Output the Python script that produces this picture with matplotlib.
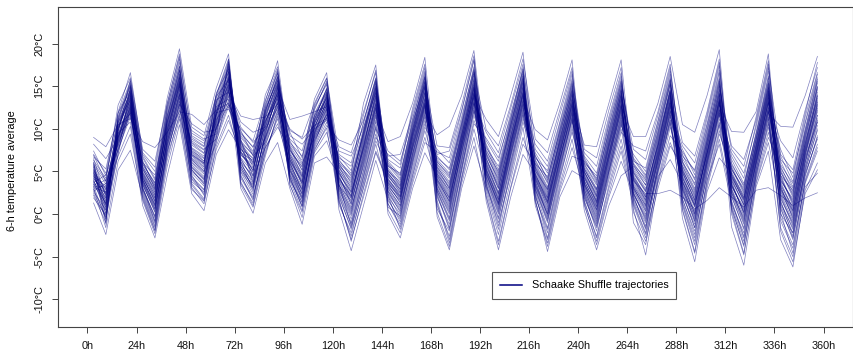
import matplotlib
matplotlib.use("Agg")
import matplotlib.pyplot as plt
import numpy as np

# Lead times (h) – centres of the 6-h windows
hours = [3 + 6 * k for k in range(60)]

# Ensemble values (degC) at each lead time, members 1-30
ensemble_a = [
    [9.0, 8.2, 4.5, 3.1, 5.8, 2.2, 6.3, 4.0, 3.6, 5.1, 7.0, 2.9, 4.8, 1.3, 5.5, 3.9, 6.7, 4.2, 3.3, 5.0, 2.6, 6.0, 4.6, 3.0, 5.3, 7.4, 3.8, 4.4, 1.9, 5.7],
    [7.9, 6.5, 1.8, 2.6, 3.5, -1.0, 4.2, 0.1, 0.8, 2.9, 4.8, -0.3, 3.0, -2.4, 1.4, 1.2, 5.3, 2.3, -0.6, 0.4, 0.5, 3.9, 1.0, -1.6, 2.2, 4.5, 1.6, 3.3, -0.1, 2.4],
    [10.5, 9.0, 8.6, 10.2, 7.5, 9.4, 11.3, 8.0, 9.8, 6.8, 12.0, 8.9, 10.7, 5.2, 9.1, 10.0, 11.8, 8.3, 7.2, 9.6, 10.4, 12.8, 8.8, 6.2, 9.3, 11.0, 9.9, 8.5, 7.8, 10.9],
    [11.2, 12.4, 13.8, 14.6, 12.0, 13.1, 15.2, 12.8, 14.0, 10.3, 16.6, 13.5, 14.4, 7.5, 12.6, 13.9, 15.6, 11.6, 12.2, 14.8, 13.3, 16.0, 12.9, 9.4, 13.6, 15.0, 14.2, 11.9, 12.5, 14.1],
    [8.5, 6.0, 3.4, 5.2, 2.4, 4.6, 6.6, 3.0, 5.5, 1.0, 7.2, 4.0, 3.8, 2.0, 4.9, 5.8, 4.3, 3.6, 2.8, 5.0, 4.4, 7.6, 3.2, 1.6, 4.7, 6.3, 5.3, 3.9, 2.6, 4.1],
    [7.8, 4.6, 0.5, 2.8, -1.4, 1.9, 4.0, -0.2, 3.3, -2.8, 5.5, 1.2, 0.9, -1.9, 2.2, 3.6, 1.6, 0.2, -0.8, 2.5, 1.4, 6.2, -0.5, -2.3, 2.0, 3.0, 2.9, 0.7, -1.1, 1.0],
    [9.6, 10.8, 8.4, 11.5, 7.0, 9.2, 12.4, 8.0, 10.3, 4.5, 13.6, 9.9, 8.8, 6.3, 10.6, 11.9, 9.4, 8.6, 7.6, 10.1, 11.2, 12.9, 9.0, 5.6, 10.9, 11.6, 10.4, 8.2, 7.3, 9.7],
    [12.0, 15.6, 14.2, 16.8, 13.0, 14.9, 18.2, 13.6, 15.9, 10.5, 19.4, 15.1, 14.0, 11.8, 16.2, 17.3, 14.6, 13.3, 12.8, 15.4, 16.5, 18.8, 14.4, 11.2, 16.0, 17.0, 15.7, 13.9, 12.5, 15.2],
    [11.7, 7.6, 5.2, 8.4, 3.6, 6.3, 9.5, 4.4, 7.0, 2.4, 10.2, 6.8, 5.6, 3.1, 7.4, 8.8, 6.0, 4.8, 4.1, 7.2, 6.5, 9.0, 5.4, 2.9, 7.8, 8.1, 6.6, 5.0, 3.8, 6.1],
    [10.5, 6.2, 3.6, 7.5, 1.8, 5.1, 8.6, 2.9, 5.9, 0.4, 9.2, 5.6, 4.2, 1.2, 6.5, 7.9, 4.7, 3.3, 2.4, 6.0, 5.3, 8.0, 4.0, 1.5, 6.8, 7.1, 5.5, 3.8, 2.6, 4.9],
    [12.2, 11.4, 10.3, 13.2, 8.6, 11.0, 14.0, 9.6, 12.0, 7.0, 14.8, 11.8, 10.6, 8.0, 12.5, 13.6, 10.8, 10.0, 9.2, 12.3, 11.6, 13.9, 10.4, 7.6, 12.8, 13.0, 11.9, 10.1, 9.0, 11.2],
    [13.0, 16.0, 14.6, 17.4, 12.6, 15.2, 18.2, 14.0, 16.4, 9.9, 18.8, 15.8, 14.8, 11.6, 16.8, 17.6, 15.0, 14.2, 13.4, 16.2, 15.5, 17.9, 14.4, 11.0, 16.6, 17.1, 15.9, 13.8, 12.9, 15.3],
    [9.4, 6.0, 8.2, 3.8, 7.0, 10.2, 5.4, 6.6, 4.4, 7.6, 5.0, 8.6, 3.0, 6.4, 4.6, 7.4, 9.0, 11.5, 5.8, 6.9, 8.0, 5.6, 10.8, 7.2, 6.2, 3.4, 8.4, 7.8, 9.8, 8.8],
    [7.9, 3.5, 6.0, 1.0, 5.2, 8.4, 2.6, 4.9, 2.0, 6.6, 3.0, 5.5, 0.1, 4.2, 1.6, 4.6, 7.2, 11.1, 3.8, 5.8, 4.4, 3.2, 9.6, 6.3, 2.8, 0.8, 7.0, 5.0, 6.8, 3.6],
    [11.0, 9.2, 12.2, 7.4, 10.4, 10.0, 8.6, 12.7, 8.0, 11.6, 9.6, 10.8, 6.0, 12.0, 8.8, 9.9, 13.2, 11.4, 9.0, 10.6, 7.8, 11.9, 10.2, 14.0, 9.4, 6.8, 10.9, 12.4, 8.4, 11.2],
    [13.6, 14.4, 15.8, 11.2, 14.8, 12.4, 13.0, 16.8, 12.2, 15.4, 14.0, 14.2, 8.4, 16.2, 13.4, 13.8, 18.0, 12.9, 13.2, 15.0, 10.6, 16.0, 13.5, 17.3, 14.6, 11.8, 14.1, 15.6, 12.6, 15.2],
    [6.4, 8.6, 7.0, 4.8, 11.1, 5.6, 3.9, 7.6, 6.0, 9.2, 5.0, 4.4, 3.0, 8.0, 6.6, 5.2, 7.2, 10.0, 4.2, 6.8, 5.8, 7.4, 9.6, 6.2, 3.5, 5.4, 8.2, 4.6, 7.8, 6.1],
    [3.8, 6.0, 4.6, 2.0, 11.5, 3.0, 0.4, 5.2, 2.8, 8.2, 2.4, 1.0, -1.2, 5.8, 4.0, 1.6, 4.8, 8.8, 0.9, 3.4, 2.2, 5.5, 6.6, 3.6, -0.4, 1.9, 6.3, 1.3, 4.4, 2.6],
    [10.2, 9.0, 11.4, 8.2, 12.0, 9.6, 7.4, 11.0, 10.6, 10.0, 8.8, 9.4, 6.0, 12.4, 10.8, 8.4, 11.8, 10.4, 7.8, 9.8, 9.2, 11.6, 13.5, 10.1, 6.8, 8.6, 12.8, 9.3, 11.2, 10.5],
    [13.0, 11.6, 14.2, 12.0, 12.6, 12.8, 10.4, 14.8, 13.6, 11.0, 12.2, 13.4, 6.7, 15.4, 14.0, 11.8, 14.6, 11.2, 10.8, 13.2, 12.4, 14.4, 16.6, 13.8, 8.6, 11.4, 15.9, 12.9, 13.5, 14.1],
    [5.0, 7.4, 3.2, 6.0, 2.6, 4.4, 8.7, 3.8, 5.6, 6.8, 1.4, 4.0, 4.8, 3.0, 5.2, 7.9, 2.2, 6.4, 3.5, 0.5, 4.6, 5.8, 2.8, 6.2, 4.2, 3.6, 5.4, 1.8, 4.9, 3.3],
    [2.0, 6.8, 0.2, 3.6, -1.0, 1.4, 8.1, 0.8, 3.0, 5.1, -2.6, 1.8, 2.4, -0.6, 2.8, 7.2, -1.8, 4.4, 0.4, -4.3, 1.1, 4.0, -0.2, 4.8, 2.2, -1.4, 3.4, -3.2, 2.6, 1.6],
    [8.4, 10.2, 6.0, 9.6, 4.6, 7.2, 11.0, 5.6, 9.0, 10.8, 3.2, 7.8, 8.0, 5.0, 8.6, 12.0, 3.8, 9.4, 6.6, 1.0, 7.0, 9.2, 5.2, 13.0, 8.2, 4.2, 9.8, 2.4, 7.6, 6.4],
    [13.4, 14.2, 11.6, 15.0, 10.4, 12.8, 15.6, 11.0, 14.6, 15.9, 8.6, 13.0, 13.8, 10.8, 14.0, 16.6, 9.4, 14.8, 12.2, 6.3, 12.6, 14.4, 11.4, 17.5, 13.6, 10.0, 15.3, 7.4, 12.4, 12.0],
    [4.6, 2.4, 6.0, 3.0, 5.2, 1.2, 3.8, 7.4, 2.0, 4.2, 5.6, 3.4, 0.0, 4.8, 6.4, 2.8, 3.6, 5.0, 8.5, 1.6, 4.4, 2.6, 5.8, 3.2, 4.0, 6.8, 2.2, 3.9, 0.8, 4.7],
    [2.6, 0.4, 4.2, 1.0, 3.4, -1.2, 1.8, 6.2, 0.0, 2.2, 4.8, 1.4, -2.8, 3.0, 5.4, 0.8, 2.0, 3.8, 9.1, -0.6, 2.9, 0.6, 4.5, 1.6, 2.4, 7.0, -1.8, 2.0, -0.2, 3.2],
    [8.8, 7.0, 10.4, 6.4, 9.6, 4.6, 8.0, 11.2, 6.0, 9.0, 10.8, 7.6, 3.0, 9.4, 12.0, 7.2, 8.4, 10.0, 13.0, 5.4, 9.2, 6.8, 10.6, 8.2, 8.6, 11.6, 4.0, 7.8, 5.8, 9.8],
    [14.2, 12.4, 15.6, 11.8, 14.8, 10.2, 13.2, 16.2, 12.0, 14.4, 15.2, 13.0, 7.2, 14.6, 17.2, 12.8, 13.6, 15.0, 18.4, 11.0, 14.0, 12.6, 16.0, 13.4, 13.8, 16.8, 9.0, 13.1, 11.4, 15.4],
    [3.4, 6.2, 2.0, 5.4, 4.0, 7.6, 2.8, 4.6, 9.3, 3.0, 5.8, 1.0, 4.4, 6.8, 3.6, 2.4, 5.0, -0.3, 4.8, 6.4, 3.2, 5.6, 1.6, 4.2, 7.0, 2.6, 3.8, 5.2, 0.6, 4.5],
    [0.8, 4.4, -1.2, 3.0, 1.6, 6.0, -0.4, 2.2, 10.3, 0.2, 3.8, -2.6, 1.8, 5.2, 1.0, -1.6, 2.6, -4.2, 2.4, 4.8, 0.4, 3.4, -3.0, 1.4, 7.4, -0.8, 1.2, 3.2, -2.0, 2.0],
    [7.4, 10.0, 5.6, 9.2, 8.0, 11.4, 6.4, 8.6, 13.9, 7.0, 9.6, 4.4, 8.2, 10.6, 7.8, 5.2, 9.0, 3.0, 8.8, 10.4, 7.6, 9.4, 4.0, 8.4, 12.2, 6.0, 7.2, 9.8, 5.0, 8.5],
    [13.6, 16.2, 12.2, 15.4, 14.4, 17.0, 13.0, 14.8, 19.2, 13.4, 15.8, 11.0, 14.2, 16.6, 14.0, 12.4, 15.0, 8.0, 14.6, 16.4, 13.8, 15.6, 10.0, 14.1, 18.2, 12.6, 13.2, 15.9, 11.6, 14.9],
    [6.0, 4.2, 8.0, 3.2, 5.4, 7.0, 9.6, 4.8, 6.6, 2.2, 5.0, 7.4, 3.8, 5.8, 11.1, 4.4, 6.2, 3.0, 7.8, 5.2, 1.5, 6.8, 4.6, 8.6, 5.6, 3.5, 6.4, 4.0, 7.2, 5.3],
    [2.4, 0.6, 4.8, -1.0, 1.8, 3.8, 7.2, 1.2, 3.0, -3.2, 1.4, 5.0, 0.0, 2.6, 9.1, 0.8, 3.4, -1.8, 5.6, 2.0, -4.2, 4.2, 1.0, 6.2, 2.2, -0.4, 3.2, 0.2, 4.4, 1.6],
    [8.6, 6.8, 10.4, 4.6, 8.0, 9.8, 12.4, 7.4, 9.2, 3.2, 7.6, 10.8, 6.2, 8.8, 13.9, 7.0, 9.4, 5.0, 11.2, 8.2, 2.0, 10.0, 7.2, 11.8, 8.4, 5.8, 9.0, 6.6, 10.6, 7.8],
    [14.4, 12.6, 15.8, 10.8, 13.8, 15.4, 17.6, 13.2, 15.0, 9.0, 13.4, 16.2, 12.0, 14.6, 19.0, 12.8, 15.2, 11.2, 16.6, 14.0, 7.0, 15.6, 13.0, 16.8, 14.2, 11.6, 14.8, 12.4, 16.0, 13.6],
    [3.2, 5.6, 2.6, 6.4, 4.0, 1.0, 5.0, 7.2, 3.8, 4.6, 9.9, 2.2, 5.4, 3.4, 6.0, 4.4, 2.8, 6.8, 3.6, 5.2, 4.8, 1.8, 8.2, 4.2, 3.0, 5.8, 4.5, 6.6, 2.4, 3.9],
    [-0.4, 2.8, -1.6, 3.6, 1.0, -3.4, 2.0, 4.8, 0.6, 1.6, 8.7, -2.2, 2.4, 0.0, 3.2, 1.2, -1.0, 4.2, 0.4, 2.2, 1.4, -4.4, 6.2, 0.8, -0.8, 3.0, 1.8, 5.1, -2.8, -0.2],
    [6.2, 8.4, 5.0, 9.4, 7.0, 3.0, 8.0, 10.2, 6.6, 7.6, 13.0, 4.4, 8.8, 6.0, 9.0, 7.2, 5.4, 9.8, 6.4, 8.2, 7.4, 2.0, 11.6, 6.8, 5.8, 8.6, 7.8, 10.6, 4.0, 5.6],
    [11.8, 13.6, 10.8, 14.8, 12.6, 7.8, 13.2, 15.6, 12.0, 13.0, 18.1, 9.6, 14.0, 11.6, 14.4, 12.8, 11.2, 15.2, 12.2, 13.4, 12.9, 5.1, 16.8, 12.4, 11.4, 14.2, 13.8, 15.9, 10.0, 11.0],
    [4.4, 2.2, 6.6, 3.6, 5.0, 2.8, 8.1, 4.0, 1.4, 5.6, 3.2, 4.8, 6.0, 2.0, 3.8, 7.2, 0.4, 4.6, 3.0, 5.4, 2.6, 4.2, 3.4, 5.8, 1.0, 4.9, 3.5, 6.4, 2.4, 5.2],
    [1.4, -1.2, 4.0, 0.6, 2.2, -0.4, 7.9, 1.0, -2.6, 3.0, 0.2, 2.0, 4.5, -1.6, 1.2, 5.6, -4.2, 1.8, -0.2, 2.6, -0.8, 1.6, 0.4, 3.4, -3.2, 2.4, 0.8, 3.8, -2.0, 2.8],
    [7.4, 5.0, 9.6, 6.4, 8.2, 5.6, 13.0, 7.0, 3.4, 9.0, 6.0, 8.0, 10.4, 4.4, 7.2, 11.4, 1.0, 7.8, 5.8, 8.6, 5.2, 7.6, 6.6, 9.4, 2.4, 8.4, 6.8, 10.0, 4.8, 8.8],
    [13.0, 11.0, 15.0, 12.2, 13.8, 11.6, 18.1, 12.6, 8.8, 14.4, 11.8, 13.4, 15.6, 10.4, 12.8, 16.6, 4.5, 13.2, 11.4, 14.0, 10.8, 13.6, 12.0, 14.8, 7.4, 14.2, 12.4, 15.2, 10.0, 14.6],
    [2.6, 5.8, 1.4, 4.0, 6.4, 3.2, 4.6, 9.1, 2.0, 3.6, 5.2, 0.6, 4.2, 7.0, 3.0, 1.8, 5.6, 2.4, 4.8, -1.0, 3.4, 6.0, 2.8, 4.4, 1.0, 5.0, 3.8, 7.6, 2.2, 3.9],
    [-0.6, 3.4, -2.2, 1.6, 4.4, 0.4, 2.0, 9.1, -1.4, 1.2, 3.0, -4.8, 1.8, 5.0, 0.8, -1.0, 3.8, -0.2, 2.6, -3.6, 1.0, 4.0, 0.0, 2.2, -2.8, 2.8, 1.4, 6.4, -1.8, 2.4],
    [6.4, 9.0, 5.2, 7.8, 10.2, 6.8, 8.4, 13.0, 5.6, 7.4, 8.8, 3.6, 7.0, 10.8, 6.6, 5.0, 9.4, 6.0, 8.0, 4.4, 7.2, 9.8, 6.2, 8.6, 4.0, 8.2, 7.6, 11.6, 5.8, 2.4],
    [12.2, 14.6, 11.4, 13.6, 15.8, 12.8, 14.0, 18.5, 11.8, 13.2, 14.4, 8.4, 12.6, 16.4, 12.4, 10.6, 15.2, 12.0, 13.8, 6.4, 13.0, 15.4, 11.6, 14.2, 10.2, 14.8, 13.4, 17.2, 11.0, 2.8],
    [5.0, 3.2, 7.6, 1.8, 4.4, 6.2, 2.6, 10.5, 3.8, 5.6, 1.0, 4.8, 6.8, 2.2, 4.0, 3.0, 8.4, -0.5, 5.2, 3.6, 4.6, 1.4, 6.0, 2.8, 5.4, 3.4, 7.0, 4.2, 0.6, 2.0],
    [1.6, -0.8, 4.6, -2.4, 1.0, 3.4, -1.6, 9.6, 0.4, 2.6, -3.6, 1.8, 5.2, -1.2, 0.8, -0.2, 6.8, -5.6, 2.2, 0.0, 1.2, -2.8, 3.0, -0.6, 2.0, 0.2, 4.0, 1.4, -4.4, 0.6],
    [8.0, 6.0, 10.4, 4.6, 7.2, 9.2, 5.4, 13.9, 6.8, 8.6, 3.4, 7.6, 11.2, 5.8, 7.0, 6.4, 12.0, 2.6, 8.4, 6.6, 7.4, 5.0, 9.0, 6.2, 8.2, 7.8, 9.8, 7.1, 4.0, 1.6],
    [14.0, 12.2, 16.0, 10.8, 13.4, 15.2, 11.6, 19.3, 12.8, 14.6, 9.4, 13.6, 17.4, 11.8, 13.0, 12.4, 18.2, 6.6, 14.4, 12.6, 13.2, 10.6, 15.0, 12.0, 14.2, 13.8, 15.6, 13.1, 8.2, 3.1],
    [3.6, 6.4, 2.2, 5.0, 1.0, 4.2, 7.2, 2.8, 9.7, 3.2, 5.6, 0.4, 4.6, 2.4, 6.0, 3.8, 1.6, 4.8, -1.5, 5.4, 3.0, 4.0, 8.0, 2.6, 4.4, 0.8, 3.4, 5.2, 1.2, 2.0],
    [0.2, 3.6, -1.8, 2.0, -3.2, 1.0, 4.8, -0.6, 9.6, 0.6, 2.6, -4.6, 1.4, -1.2, 3.2, 0.0, -2.6, 1.8, -6.0, 2.4, -0.2, 1.2, 6.4, -1.0, 1.6, -3.8, 0.4, 3.0, -2.2, 0.8],
    [7.0, 9.4, 5.6, 8.2, 4.4, 7.6, 10.2, 6.2, 12.0, 6.8, 8.6, 3.8, 7.4, 5.8, 9.0, 6.6, 5.0, 8.0, 3.2, 8.8, 6.4, 7.2, 11.0, 6.0, 7.8, 4.8, 7.1, 9.6, 5.2, 2.8],
    [13.4, 15.6, 12.0, 14.6, 10.6, 13.8, 16.8, 12.6, 18.8, 13.0, 15.0, 9.0, 14.0, 11.8, 15.4, 13.2, 11.2, 14.4, 7.4, 14.8, 12.4, 13.6, 17.6, 12.2, 14.2, 10.2, 13.1, 16.2, 11.4, 3.1],
    [4.4, 2.0, 6.2, 0.6, 3.6, 5.0, 1.4, 7.6, 2.8, 4.0, -0.4, 5.6, 3.0, 10.3, 1.8, 4.6, 2.4, 6.8, -3.0, 3.4, 1.0, 5.2, 3.8, 0.2, 4.2, 2.6, 8.6, 3.2, -1.6, 2.2],
    [1.0, -1.4, 3.2, -2.8, 0.4, 2.0, -1.8, 4.3, -0.4, 1.6, -3.6, 2.6, 0.0, 10.2, -1.0, 1.2, -0.8, 3.8, -6.2, 0.8, -2.2, 2.2, 0.6, -4.6, 1.4, -0.2, 6.6, 0.2, -5.0, 1.0],
    [8.2, 6.0, 10.0, 4.6, 7.4, 9.0, 5.6, 11.4, 6.8, 8.6, 3.6, 9.6, 7.0, 13.9, 6.4, 7.8, 6.2, 10.6, 2.8, 8.0, 5.2, 9.2, 7.6, 4.0, 8.4, 6.6, 12.2, 7.2, 3.2, 1.9],
    [13.8, 11.0, 15.6, 9.0, 12.6, 14.6, 10.4, 16.6, 12.0, 14.0, 7.4, 15.0, 12.4, 18.5, 11.6, 13.2, 11.2, 16.0, 6.0, 13.6, 9.8, 14.8, 12.8, 8.2, 13.4, 10.8, 17.2, 12.2, 4.8, 2.5],
]

# Ensemble values (degC) at each lead time, members 31-46
ensemble_b = [
    [4.1, 6.1, 3.4, 5.2, 2.7, 4.9, 6.5, 3.7, 5.6, 4.3, 3.2, 5.9, 4.7, 2.4, 6.9, 3.5],
    [2.8, -0.8, 4.0, 1.1, 3.6, 0.0, 2.0, 4.6, -1.2, 1.9, 3.2, 0.7, 2.5, -0.4, 3.8, 1.3],
    [9.2, 11.4, 7.6, 10.1, 8.4, 10.6, 9.7, 8.1, 11.9, 9.0, 10.3, 7.0, 9.5, 10.8, 8.7, 11.1],
    [13.0, 15.4, 11.4, 14.3, 12.7, 13.7, 15.8, 12.3, 14.5, 13.2, 11.8, 14.9, 10.8, 13.4, 12.1, 15.1],
    [4.5, 6.8, 2.2, 5.6, 3.5, 4.8, 7.0, 3.1, 5.9, 4.2, 2.9, 5.4, 1.8, 4.0, 3.7, 6.1],
    [1.5, 4.2, -1.6, 3.1, 0.3, 2.3, 5.0, -0.9, 3.7, 1.8, -0.3, 2.6, -2.0, 1.1, 0.6, 3.4],
    [9.8, 12.6, 7.8, 11.0, 8.9, 10.0, 13.0, 8.1, 11.4, 9.3, 7.4, 10.7, 6.8, 9.5, 8.5, 12.2],
    [15.0, 17.8, 13.2, 16.4, 14.1, 15.5, 18.5, 12.9, 16.9, 14.7, 12.2, 16.1, 11.5, 15.3, 13.7, 17.4],
    [7.7, 4.6, 9.8, 5.8, 8.3, 3.4, 6.9, 10.6, 5.2, 7.3, 8.6, 4.2, 6.4, 9.2, 5.5, 7.0],
    [6.6, 2.2, 8.8, 4.4, 7.2, 1.6, 5.8, 9.6, 3.5, 6.2, 7.6, 2.8, 5.0, 8.3, 4.1, 6.0],
    [11.5, 13.4, 9.4, 12.6, 10.7, 11.9, 14.2, 9.9, 13.1, 11.1, 8.8, 12.1, 8.3, 11.7, 10.2, 13.8],
    [16.1, 14.3, 17.8, 13.5, 15.6, 12.3, 17.0, 14.9, 16.7, 13.1, 18.2, 15.1, 14.6, 17.3, 12.8, 15.7],
    [7.1, 9.2, 4.2, 8.0, 5.6, 10.0, 6.5, 4.9, 8.6, 7.6, 5.2, 9.6, 6.1, 3.6, 7.3, 8.3],
    [5.4, 7.4, 1.8, 6.1, 3.1, 8.6, 4.0, 2.3, 6.9, 5.9, 3.4, 7.8, 4.5, 1.3, 5.1, 6.4],
    [10.7, 12.5, 8.2, 11.3, 9.7, 13.4, 10.3, 7.1, 12.1, 11.8, 9.1, 12.9, 10.1, 7.8, 11.5, 8.9],
    [14.9, 16.5, 12.0, 15.7, 13.9, 17.0, 14.3, 11.5, 16.1, 15.3, 13.1, 16.6, 14.7, 10.2, 15.1, 12.7],
    [7.0, 4.0, 8.8, 5.4, 6.4, 3.4, 9.8, 5.9, 7.5, 4.6, 6.7, 8.4, 5.1, 7.9, 4.3, 6.3],
    [4.2, 1.4, 7.4, 2.4, 3.8, 0.2, 9.0, 3.2, 5.6, 1.8, 4.4, 6.8, 2.9, 5.1, 0.8, 3.6],
    [10.9, 8.0, 12.6, 9.1, 10.3, 7.2, 13.0, 9.7, 11.5, 8.7, 10.7, 12.2, 9.5, 11.1, 7.6, 10.0],
    [13.7, 11.3, 15.2, 12.3, 13.1, 9.6, 16.0, 12.7, 14.3, 11.7, 13.3, 15.6, 12.5, 14.7, 10.1, 13.9],
    [4.3, 6.6, 2.4, 5.5, 1.1, 3.9, 7.0, 3.1, 5.1, 4.7, 2.0, 6.0, 3.4, 5.7, 1.6, 4.1],
    [1.9, 5.6, -1.2, 3.8, -2.2, 1.2, 6.0, 0.0, 3.2, 2.6, -1.6, 4.6, 0.6, 4.2, -3.0, 2.1],
    [7.4, 10.6, 4.4, 9.2, 3.0, 6.8, 11.6, 5.8, 8.8, 7.9, 3.6, 10.0, 6.2, 9.6, 2.0, 7.7],
    [13.2, 16.0, 10.2, 15.4, 8.2, 12.9, 16.9, 11.8, 14.7, 13.9, 9.0, 15.7, 12.5, 15.0, 7.2, 14.3],
    [3.5, 5.4, 1.8, 6.2, 2.7, 4.9, 0.5, 3.1, 5.7, 4.1, 7.0, 2.3, 4.5, 1.2, 3.7, 5.1],
    [1.3, 3.6, -0.9, 4.6, 0.2, 2.8, -2.2, 1.0, 4.0, 2.1, 5.8, -0.4, 2.5, -1.5, 1.7, 3.3],
    [7.6, 9.9, 5.0, 11.0, 6.6, 9.3, 3.6, 7.1, 10.2, 8.3, 12.4, 6.2, 8.9, 4.4, 7.9, 9.5],
    [12.9, 15.8, 10.6, 16.5, 12.2, 15.1, 8.4, 12.7, 16.1, 14.3, 17.6, 11.6, 14.9, 9.8, 13.5, 15.5],
    [5.5, 2.2, 6.6, 3.5, 4.7, 1.3, 7.3, 3.0, 5.9, 4.1, 0.2, 6.1, 2.7, 5.1, 3.9, 8.0],
    [3.6, -1.8, 5.4, 0.6, 2.8, -3.4, 6.6, 0.0, 4.2, 1.9, -3.8, 4.6, -0.6, 3.0, 1.5, 7.8],
    [9.3, 5.4, 11.0, 7.3, 8.7, 4.2, 12.0, 6.7, 10.2, 8.1, 3.6, 10.7, 6.2, 9.1, 7.9, 12.8],
    [15.3, 12.0, 17.3, 13.7, 14.7, 10.6, 18.0, 13.1, 16.7, 14.3, 9.0, 16.9, 12.9, 15.1, 13.9, 18.6],
    [5.1, 7.6, 2.6, 6.5, 4.3, 8.9, 3.6, 5.7, 9.9, 4.9, 2.0, 7.1, 6.0, 3.3, 8.2, 4.7],
    [1.7, 4.6, -2.4, 3.6, 0.4, 6.6, -1.4, 2.4, 8.0, 1.1, -3.6, 4.0, 3.0, -0.6, 5.2, 1.3],
    [8.1, 10.2, 4.0, 9.7, 7.1, 11.4, 5.4, 8.5, 12.8, 7.7, 3.0, 10.4, 9.1, 6.0, 11.0, 8.3],
    [13.9, 15.9, 10.2, 15.5, 12.9, 17.2, 11.8, 14.3, 18.2, 13.3, 8.2, 16.4, 14.9, 12.2, 17.0, 14.1],
    [4.1, 6.2, 1.4, 5.5, 3.5, 7.6, 2.0, 4.7, 8.8, 3.3, 5.9, 2.9, 6.9, 4.3, 1.6, 5.1],
    [1.3, 3.8, -3.0, 2.6, 0.2, 5.6, -1.8, 1.9, 7.2, 0.0, 4.4, -0.6, 4.0, 1.5, -3.8, 2.9],
    [7.1, 9.2, 3.4, 8.3, 6.3, 10.8, 4.6, 7.7, 12.2, 6.5, 9.6, 5.2, 9.9, 7.3, 2.6, 8.7],
    [12.7, 15.0, 8.8, 14.1, 12.3, 16.4, 10.4, 13.5, 17.2, 11.9, 14.6, 11.3, 15.4, 13.1, 6.8, 14.5],
    [3.9, 5.9, 1.6, 4.5, 2.9, 6.8, 3.3, 5.3, 1.9, 4.3, 7.6, 2.5, 5.0, 3.6, 6.2, 1.2],
    [0.9, 3.6, -2.8, 1.5, -0.6, 4.8, 0.0, 2.9, -1.4, 1.3, 6.6, -1.0, 2.1, 0.5, 4.2, -3.6],
    [6.9, 9.8, 3.0, 7.9, 5.4, 11.0, 6.2, 9.2, 4.0, 7.1, 12.2, 5.0, 8.3, 6.5, 10.6, 2.0],
    [12.9, 15.4, 8.0, 13.9, 11.2, 16.2, 12.3, 14.6, 9.6, 13.5, 17.2, 10.6, 14.1, 12.7, 15.8, 6.2],
    [3.1, 6.6, 1.6, 4.3, 0.2, 5.4, 2.3, 4.9, 8.0, 3.3, 1.2, 5.8, 2.9, 4.1, 6.2, 2.5],
    [0.6, 4.6, -1.6, 2.0, -3.2, 3.4, -0.4, 2.7, 7.4, 1.0, -2.4, 4.2, 0.3, 1.6, 5.4, -0.8],
    [6.2, 10.4, 4.6, 7.9, 3.0, 9.2, 5.4, 8.1, 12.0, 6.9, 3.8, 9.6, 6.5, 7.3, 11.0, 5.0],
    [12.7, 16.0, 11.1, 14.3, 8.0, 15.3, 12.1, 14.5, 17.6, 13.3, 9.2, 15.7, 13.1, 13.9, 16.8, 10.8],
    [4.3, 2.3, 6.5, 1.2, 5.7, 3.9, 8.0, 0.4, 4.9, 2.9, 7.3, 3.3, 5.1, 1.7, 6.1, 3.7],
    [0.9, -1.6, 4.2, -3.2, 2.8, 0.0, 6.0, -4.6, 1.6, -0.9, 5.0, -0.4, 2.4, -2.0, 3.6, 1.1],
    [7.3, 5.2, 10.0, 3.8, 8.8, 6.5, 11.6, 3.0, 7.9, 5.7, 10.6, 6.1, 8.5, 4.4, 9.5, 7.0],
    [13.5, 11.2, 16.6, 9.8, 15.4, 12.8, 17.8, 8.8, 14.1, 11.9, 16.9, 12.3, 14.7, 10.4, 15.8, 13.3],
    [2.9, 5.3, 1.4, 4.3, 0.0, 6.8, 3.3, 2.0, 5.8, 3.9, 0.6, 4.7, 7.6, 2.5, 3.5, 4.5],
    [-0.8, 2.8, -2.8, 1.7, -4.8, 4.2, 0.8, -1.6, 3.4, 1.1, -3.6, 2.2, 5.6, -0.4, 0.2, 1.9],
    [6.1, 8.7, 4.6, 7.7, 3.6, 10.6, 6.9, 5.3, 9.2, 7.3, 4.2, 8.3, 11.4, 5.9, 6.5, 8.0],
    [12.5, 15.3, 10.8, 14.1, 8.4, 17.2, 13.3, 11.6, 16.0, 13.7, 9.6, 14.9, 18.0, 12.1, 12.9, 14.5],
    [3.3, 5.8, -0.8, 4.9, 1.6, 7.0, 2.2, -2.0, 5.4, 0.8, 3.9, 6.4, 1.2, 4.5, 2.9, 0.0],
    [-0.6, 3.6, -4.0, 2.4, -2.6, 5.2, -1.2, -5.6, 3.0, -3.0, 1.8, 4.8, -1.6, 2.8, 0.4, -2.2],
    [6.9, 9.8, 3.8, 8.8, 5.4, 11.8, 6.0, 2.4, 9.4, 4.4, 7.7, 10.8, 5.0, 8.2, 7.3, 4.8],
    [12.9, 15.8, 7.8, 14.9, 10.8, 17.8, 11.6, 5.2, 15.4, 9.2, 13.9, 16.4, 10.0, 14.3, 13.1, 8.8],
]

xtick_hours = list(range(0, 361, 24))
xtick_labels = [f"{h}h" for h in xtick_hours]
ytick_values = [-10, -5, 0, 5, 10, 15, 20]
ytick_labels = [f"{v}°C" for v in ytick_values]

NAVY = "#000080"

plt.rcParams.update({
    "font.family": ["Liberation Sans", "DejaVu Sans"],
    "font.size": 7.8,
})

fig = plt.figure(figsize=(8.54, 3.53), dpi=100)
ax = fig.add_axes([58 / 854, 1 - 327 / 353, 795 / 854, 320 / 353])

members = np.hstack([np.array(ensemble_a), np.array(ensemble_b)]).T
for i, traj in enumerate(members):
    ax.plot(hours, traj, color=NAVY, linewidth=0.5, alpha=0.5,
            label="Schaake Shuffle trajectories" if i == 0 else None)

ax.set_xlim(-14.4, 374.4)
ax.set_ylim(-13.25, 24.3)
ax.set_xticks(xtick_hours)
ax.set_xticklabels(xtick_labels)
ax.set_yticks(ytick_values)
ax.set_yticklabels(ytick_labels, rotation=90, va="center")
ax.tick_params(length=4.3, width=0.7, color="#444444", pad=5.5, labelcolor="#111111")
for sp in ax.spines.values():
    sp.set_color("#444444")
    sp.set_linewidth(0.8)

ax.set_ylabel("6-h temperature average", fontsize=7.8)
ax.yaxis.set_label_coords(-0.051, 0.49)

leg = ax.legend(loc="center", bbox_to_anchor=(0.662, 0.130), fancybox=False,
                edgecolor="#555555", framealpha=1, handlelength=2.0,
                borderpad=0.75, handletextpad=0.9)
leg.get_frame().set_linewidth(0.8)
for h in leg.get_lines():
    h.set_alpha(1)
    h.set_linewidth(1.1)

fig.savefig("out.png", dpi=100)
